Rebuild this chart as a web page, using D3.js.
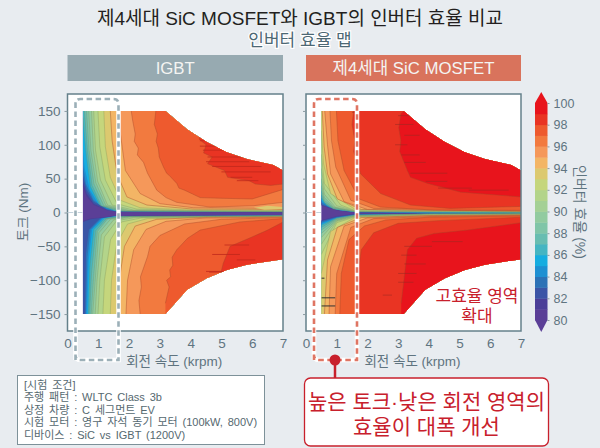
<!DOCTYPE html>
<html><head><meta charset="utf-8">
<script src="https://cdn.jsdelivr.net/npm/d3@7"></script>
<style>
html,body{margin:0;padding:0;background:#e8ecf0;overflow:hidden}
text{font-family:"Liberation Sans","Noto Sans CJK KR",sans-serif}
</style></head><body>
<svg id="c" width="600" height="448" xmlns="http://www.w3.org/2000/svg"></svg>
<script>
const chartTitle="제4세대 SiC MOSFET와 IGBT의 인버터 효율 비교";
const chartSubtitle="인버터 효율 맵";
const panelNames=["IGBT","제4세대 SiC MOSFET"];
const xLabel="회전 속도 (krpm)";
const yLabel="토크 (Nm)";
const barLabel="인버터 효율 (%)";
const xTicks=[0,1,2,3,4,5,6,7];
const yTicks=[150,100,50,0,-50,-100,-150];
const barTicks=[80,82,84,86,88,90,92,94,96,98,100];
const bandLevels=[80,81,82,83,84,85,86,87,88,89,90,91,92,93,94,95,96,97,98,99];
const bandColors=["#5b3f97","#4b3f98","#3b55a6","#2c72b6","#1e90d2","#16ade0","#45b5c2","#68bdb1","#80c5a8","#92cba0","#a4d095","#b3d48a","#c5d67c","#dcc96f","#f3b565","#f5985a","#f27a3f","#ee5a2e","#e93423","#e8141c"];
const envelopeTop=[[0.5,150],[3.18,150],[3.88,123],[4.52,104],[5.17,89],[5.82,79],[6.68,70],[7,62]];
const envelopeBottom=[[0.5,-150],[3.18,-150],[3.88,-114],[4.52,-97],[5.17,-85],[5.82,-77],[7,-69]];
const curveLevels=[81,82,83,84,85,86,87,88,89,90,91,92,93,94,95,96,97,98,99];
const igbtUpper=[
[[0.5,38],[0.62,24],[0.85,11],[1.3,3],[1.6,1],[7,0.3]],
[[0.5,45],[0.62,28],[0.85,13],[1.3,3.5],[1.6,1.3],[7,0.5]],
[[0.5,55],[0.62,34],[0.85,16],[1.3,4],[1.6,1.6],[7,0.7]],
[[0.5,70],[0.6,42],[0.85,18],[1.25,6],[1.6,2],[7,0.9]],
[[0.5,92],[0.56,65],[0.72,34],[1,13],[1.55,2.2],[7,1.1]],
[[0.5,140],[0.6,90],[0.75,38],[1.05,11],[1.6,2.2],[7,1.3]],
[[0.55,150],[0.65,92],[0.8,40],[1.1,10],[1.7,2.4],[7,1.5]],
[[0.62,150],[0.7,92],[0.86,42],[1.18,10],[1.8,2.6],[7,1.7]],
[[0.69,150],[0.76,92],[0.92,44],[1.25,10],[1.9,2.9],[7,1.9]],
[[0.78,150],[0.84,92],[0.98,46],[1.3,11],[2,3.2],[7,2.1]],
[[0.85,150],[0.91,92],[1.07,48],[1.45,11],[2.15,3.6],[7,2.4]],
[[0.99,150],[1.05,97],[1.23,48],[1.61,13],[2.25,5],[4.09,3],[7,2.8]],
[[1.18,150],[1.23,97],[1.39,52],[1.72,18],[2.36,7],[4.09,3.6],[7,3.3]],
[[1.39,150],[1.45,106],[1.61,57],[1.93,23],[2.58,11],[4.09,5],[7,4.5]],
[[1.66,150],[1.72,116],[1.88,62],[2.36,28],[3.01,13],[4.09,7],[7,6]],
[[2.07,150],[2.12,135],[2.2,116],[2.17,105],[2.3,95],[2.27,85],[2.47,74],[2.6,58],[2.9,33],[3.2,22],[3.55,15],[4.63,8],[6.04,10],[7,15]],
[[2.87,150],[2.82,130],[2.92,116],[2.88,105],[2.95,95],[2.98,82],[3.12,67],[3.22,58],[3.3,55],[3.55,43],[3.62,36],[3.8,33],[4.31,22],[5,21],[6,20],[7,34]],
[[4.3,125],[4.28,108],[4.5,100],[4.42,88],[4.7,82],[4.55,72],[5.1,62],[5.2,52],[5.9,47],[6.1,42],[6.6,40],[7,42]],
[[7.3,300],[7.4,300]]
];
const igbtLower=[
[[0.5,-12],[0.75,-9],[1.25,-6.5],[1.6,-5],[7,-4.2]],
[[0.5,-14],[0.75,-10],[1.25,-7],[1.6,-5.2],[7,-4.3]],
[[0.57,-150],[0.6,-60],[0.7,-25],[1.05,-9],[1.55,-5.5],[7,-4.4]],
[[0.6,-150],[0.65,-65],[0.75,-25],[1.1,-9],[1.55,-5.5],[7,-4.5]],
[[0.64,-150],[0.69,-70],[0.8,-25],[1.15,-9],[1.55,-6],[7,-4.7]],
[[0.68,-150],[0.73,-80],[0.86,-25],[1.2,-9],[1.6,-6],[7,-4.9]],
[[0.72,-150],[0.78,-90],[0.92,-27],[1.25,-9.5],[1.7,-6.5],[7,-5.1]],
[[0.77,-150],[0.84,-100],[0.97,-28],[1.3,-9.5],[1.8,-6.5],[7,-5.3]],
[[0.82,-150],[0.9,-100],[1.02,-30],[1.4,-10],[1.9,-7],[7,-5.5]],
[[0.9,-150],[0.96,-100],[1.1,-33],[1.5,-11],[2,-7],[7,-5.7]],
[[0.99,-150],[1.05,-100],[1.2,-36],[1.6,-12],[2.2,-7.5],[7,-5.9]],
[[1.15,-150],[1.2,-100],[1.4,-40],[1.75,-14],[2.4,-8],[7,-6.1]],
[[1.39,-150],[1.43,-100],[1.6,-46],[1.95,-17],[2.6,-9],[7,-6.4]],
[[1.61,-150],[1.68,-100],[1.85,-50],[2.2,-20],[2.9,-10],[4.5,-7],[7,-6.7]],
[[1.9,-150],[1.95,-100],[2.15,-55],[2.55,-25],[3.2,-13],[4.5,-8],[7,-7]],
[[2.36,-150],[2.32,-130],[2.4,-110],[2.37,-95],[2.6,-65],[2.68,-50],[3,-34],[3.8,-17],[5,-10],[7,-7.5]],
[[3.18,-134],[3.3,-110],[3.22,-100],[3.35,-95],[3.32,-85],[3.42,-78],[3.4,-66],[3.55,-55],[3.9,-38],[4.31,-26],[5.6,-14],[7,-9]],
[[4.95,-95],[5.06,-75],[5.28,-50],[5.8,-40],[6.5,-26],[7,-14]],
[[7.3,-300],[7.4,-300]]
];
const sicUpper=[
[[0.5,10.5],[1,3],[1.6,-0.5],[4,-0.8],[7,-1]],
[[0.5,11],[0.9,5],[1.3,2],[1.6,0.3],[4,-0.7],[7,-1]],
[[0.5,12],[0.8,7],[1.2,3],[1.6,0.5],[3.5,-0.4],[7,-0.9]],
[[0.5,15],[0.75,8],[1.1,3.5],[1.6,0.8],[3,0.2],[7,-0.7]],
[[0.5,18],[0.7,10],[1,4],[1.6,1],[3,0.4],[7,-0.5]],
[[0.5,22],[0.65,12],[0.9,5],[1.6,1.2],[7,0.4]],
[[0.5,27],[0.6,15],[0.9,6],[1.6,1.5],[7,0.6]],
[[0.5,33],[0.6,18],[0.9,7],[1.6,1.8],[7,0.8]],
[[0.5,40],[0.6,22],[0.9,8],[1.6,2],[7,1]],
[[0.5,50],[0.6,27],[0.95,8],[1.6,2.2],[7,1.2]],
[[0.5,65],[0.6,35],[1,10],[1.6,2.5],[7,1.4]],
[[0.5,86],[0.6,43],[1.13,11],[1.6,3],[7,1.6]],
[[0.5,121],[0.57,72],[0.8,28],[1.6,4.5],[7,1.8]],
[[0.53,150],[0.59,97],[0.7,57],[1.02,20],[1.8,4.5],[7,2]],
[[0.61,150],[0.7,100],[0.8,57],[1.24,16],[2,4.5],[7,2.3]],
[[0.78,150],[0.83,106],[0.97,67],[1.46,18],[2.2,6],[7,2.7]],
[[0.99,150],[1.04,106],[1.24,62],[1.73,20],[2.43,8],[4.17,3.6],[7,3.2]],
[[1.55,150],[1.5,130],[1.59,106],[1.55,90],[1.78,57],[2.43,28],[3.4,11],[4.7,6],[7,9]],
[[3.2,150],[3.09,146],[3.02,125],[3.09,106],[3.05,90],[3.3,62],[3.4,52],[3.96,43],[5.04,30],[7,23]]
];
const sicLower=[
[[0.5,-11.5],[1,-5],[1.6,-2],[4,-1.5],[7,-1.3]],
[[0.5,-12],[1,-6],[1.6,-2.5],[4,-1.6],[7,-1.4]],
[[0.5,-13],[1,-7],[1.6,-3],[4,-1.7],[7,-1.5]],
[[0.5,-15],[1,-7.5],[1.6,-3.3],[4,-1.8],[7,-1.6]],
[[0.5,-17],[1,-8],[1.6,-3.6],[4,-2],[7,-1.7]],
[[0.5,-19],[1,-8.5],[1.6,-4],[4,-2.2],[7,-1.8]],
[[0.5,-22],[1,-9],[1.6,-4.3],[4,-2.4],[7,-2]],
[[0.5,-26],[1,-10],[1.6,-4.6],[4,-2.6],[7,-2.2]],
[[0.5,-31],[1,-11],[1.6,-5],[4,-2.8],[7,-2.4]],
[[0.5,-37],[1,-12],[1.6,-5.4],[4,-3],[7,-2.6]],
[[0.5,-47],[1,-13],[1.6,-6],[4,-3.2],[7,-2.8]],
[[0.5,-62],[1,-15],[1.6,-6.5],[4,-3.5],[7,-3]],
[[0.5,-90],[0.8,-28],[1.6,-7],[4,-4],[7,-3.3]],
[[0.6,-150],[0.7,-70],[1.02,-22],[1.8,-7.5],[4,-4.5],[7,-3.6]],
[[0.75,-150],[0.8,-80],[1.24,-20],[2,-8],[4,-5],[7,-4]],
[[0.95,-150],[1,-90],[1.46,-22],[2.2,-9],[4,-6],[7,-4.5]],
[[1.1,-150],[1.15,-90],[1.4,-40],[1.9,-20],[2.6,-11],[4,-7],[7,-5]],
[[1.65,-150],[1.66,-100],[1.8,-55],[2.2,-30],[3,-16],[4.3,-12],[7,-7]],
[[3.1,-134],[3.2,-95],[3.3,-55],[3.6,-38],[4.17,-31],[5.26,-26],[7,-15]]
];
const igbtLobe=[[6.05,7],[6.5,10],[7,8],[7,5],[6.4,4]];
const igbtStreaks=[[4.4,5.0,112],[4.3,5.3,106],[4.3,5.3,98],[4.4,5.5,92],[4.55,5.7,82],[4.5,5.9,75],[4.7,6.3,68],[5,6.6,60],[5.3,6,52],[5.5,6.2,47],[4.6,5.3,-88],[4.7,5.6,-62],[5.1,5.9,-48],[4.5,5.1,-87],[5.5,6.1,-70]];
const sicStreaks=[[3,3.4,143],[2.9,3.5,130],[3.2,3.7,114],[2.9,3.3,100],[3.1,3.7,85],[3.2,3.9,74],[3.4,4.6,58],[3.9,4.6,46],[4.3,5.4,36],[5.3,6.6,33],[3.1,3.6,-63],[3.2,3.9,-76],[3,3.6,-90],[3,3.5,-103],[3.2,4.1,-50],[4.1,5.1,-43],[0.5,0.95,-126],[0.5,0.95,-138],[0.5,0.6,-97],[1.5,1.62,148],[2.5,2.8,-122]];

const svg=d3.select("#c");
const ink="#5f7480", red="#c8202c";
const yScale=d3.scaleLinear().domain([175,-175]).range([94,331]);
const barScale=d3.scaleLinear().domain([80,100]).range([320,103]);
const panels=[
 {x0:67.5,x1:283,up:igbtUpper,lo:igbtLower,st:igbtStreaks,stc:"#c0281c",so:0.8},
 {x0:306,x1:521,up:sicUpper,lo:sicLower,st:sicStreaks,stc:"#9a2a22",so:0.55}
];
svg.append("text").attr("x",300).attr("y",25).attr("text-anchor","middle").attr("font-size",19).attr("fill","#231f20").text(chartTitle);
svg.append("text").attr("x",300).attr("y",46).attr("text-anchor","middle").attr("font-size",17).attr("fill","#4d6874").attr("stroke","#fff").attr("stroke-width",2.5).attr("paint-order","stroke").text(chartSubtitle);

const line=d3.line();
panels.forEach((p,i)=>{
 const xs=d3.scaleLinear().domain([0,7]).range([p.x0,p.x1]);
 const g=svg.append("g");
 g.append("rect").attr("x",p.x0).attr("y",55).attr("width",p.x1-p.x0).attr("height",26).attr("fill",i?"#d9735c":"#97aab1");
 g.append("text").attr("x",(p.x0+p.x1)/2).attr("y",73.5).attr("text-anchor","middle").attr("font-size",16.8).attr("fill","#f4f4f2").text(panelNames[i]);
 g.append("rect").attr("x",p.x0).attr("y",94).attr("width",p.x1-p.x0).attr("height",237).attr("fill","#fff");
 const pt=d=>[xs(d[0]),yScale(d[1])];
 const clipId="clip"+i;
 g.append("clipPath").attr("id",clipId).append("path").attr("d",line(envelopeTop.concat(envelopeBottom.slice().reverse()).map(pt))+"Z");
 const body=g.append("g").attr("clip-path",`url(#${clipId})`);
 body.append("rect").attr("x",p.x0).attr("y",94).attr("width",p.x1-p.x0).attr("height",237).attr("fill",bandColors[0]);
 curveLevels.forEach((lv,k)=>{
  const col=bandColors[bandLevels.indexOf(lv)];
  [[p.up[k],300],[p.lo[k],-300]].forEach(([c,far])=>{
   const poly=c.concat([[7.5,c[c.length-1][1]],[7.5,far],[c[0][0],far]]);
   body.append("path").attr("d",line(poly.map(pt))+"Z").attr("fill",col);
   if(lv>=86) body.append("path").attr("d",line(c.map(pt))).attr("fill","none").attr("stroke",lv>=94?"#a8452a":"#7f8f55").attr("stroke-opacity",lv>=94?0.7:0.55).attr("stroke-width",0.6);
  });
 });
 if(i===0) body.append("path").attr("d",line(igbtLobe.map(pt))+"Z").attr("fill",bandColors[13]);
 body.selectAll("line.s").data(p.st).join("line").attr("x1",d=>xs(d[0])).attr("x2",d=>xs(d[1])).attr("y1",d=>yScale(d[2])).attr("y2",d=>yScale(d[2])).attr("stroke",d=>d[0]<1?"#333":p.stc).attr("stroke-opacity",d=>d[0]<1?1:p.so).attr("stroke-width",1);
 g.append("rect").attr("x",p.x0).attr("y",94).attr("width",p.x1-p.x0).attr("height",237).attr("fill","none").attr("stroke","#64808a").attr("stroke-width",1.5);
 // axes
 const ax=g.append("g").attr("transform","translate(0,331)").call(d3.axisBottom(xs).tickValues(xTicks).tickSize(0).tickPadding(7).tickFormat(d3.format("d")));
 ax.select(".domain").remove();
 ax.selectAll("text").attr("font-size",13.5).attr("fill",ink).attr("font-family",null);
 const ay=g.append("g").attr("transform",`translate(${p.x0},0)`).call(d3.axisLeft(yScale).tickValues(yTicks).tickSize(3).tickPadding(4).tickFormat(i?"":d3.format("d")));
 ay.select(".domain").remove();
 ay.selectAll("line").attr("stroke","#8a9aa1");
 ay.selectAll("text").attr("font-size",13.5).attr("fill",ink).attr("font-family",null);
 g.append("line").attr("x1",p.x0).attr("x2",p.x0+15).attr("y1",yScale(0)).attr("y2",yScale(0)).attr("stroke","#c4d2dc").attr("stroke-width",1);
 g.append("text").attr("x",(p.x0+p.x1)/2-1).attr("y",366).attr("text-anchor","middle").attr("font-size",13.5).attr("fill",ink).text(xLabel);
 // dashed box
 const bx=p.x0+8, bw=43, by=99, bh=261;
 const bp=`M${bx},${by+bh}V${by+5}Q${bx},${by} ${bx+5},${by}H${bx+bw-5}Q${bx+bw},${by} ${bx+bw},${by+5}V${by+bh}Q${bx+bw},${by+bh} ${bx+bw-5},${by+bh}H${bx+5}Q${bx},${by+bh} ${bx},${by+bh-5}`;
 g.append("path").attr("d",bp).attr("fill","none").attr("stroke","#fff").attr("stroke-width",4.5);
 g.append("path").attr("d",bp).attr("fill","none").attr("stroke",i?"#df7563":"#9cb0b8").attr("stroke-width",2.6).attr("stroke-dasharray","5.5 3.5");
});
svg.append("text").attr("transform","translate(28,212) rotate(-90)").attr("text-anchor","middle").attr("font-size",13.5).attr("fill",ink).text(yLabel);

// colour bar
const barX=535, barW=12.5;
bandLevels.forEach((lv,k)=>{
 svg.append("rect").attr("x",barX).attr("width",barW).attr("y",barScale(lv+1)).attr("height",barScale(lv)-barScale(lv+1)+0.4).attr("fill",bandColors[k]);
});
svg.append("path").attr("d",`M${barX},${barScale(100)}L${barX+barW/2},92L${barX+barW},${barScale(100)}Z`).attr("fill",bandColors[19]);
svg.append("path").attr("d",`M${barX},${barScale(80)}L${barX+barW/2},332L${barX+barW},${barScale(80)}Z`).attr("fill",bandColors[0]);
const bax=svg.append("g").attr("transform",`translate(${barX+barW},0)`).call(d3.axisRight(barScale).tickValues(barTicks).tickSize(2).tickPadding(4));
bax.select(".domain").remove();
bax.selectAll("line").attr("stroke","#8a9aa1");
bax.selectAll("text").attr("font-size",12.5).attr("fill",ink).attr("font-family",null);
svg.append("text").attr("transform","translate(575,212) rotate(90)").attr("text-anchor","middle").attr("font-size",14).attr("fill",ink).text(barLabel);

// high efficiency note
const noteLines=["고효율 영역","확대"];
noteLines.forEach((t,k)=>svg.append("text").attr("x",477).attr("y",302+k*20).attr("text-anchor","middle").attr("font-size",17).attr("fill",red).text(t));

// conditions box
const conditionLines=["[시험 조건]","주행 패턴 : WLTC Class 3b","상정 차량 : C 세그먼트 EV","시험 모터 : 영구 자석 동기 모터 (100kW, 800V)","디바이스 : SiC vs IGBT (1200V)"];
svg.append("rect").attr("x",17.5).attr("y",375.5).attr("width",247).attr("height",69).attr("fill","#fff").attr("stroke","#7d9199");
conditionLines.forEach((t,k)=>svg.append("text").attr("x",24).attr("y",389+k*12.4).attr("font-size",11).attr("word-spacing",1.8).attr("fill","#55686f").text(t));

// callout
svg.append("line").attr("x1",335).attr("x2",335).attr("y1",360).attr("y2",378).attr("stroke",red).attr("stroke-width",2.5);
svg.append("circle").attr("cx",335).attr("cy",360).attr("r",5.5).attr("fill",red);
svg.append("rect").attr("x",304.5).attr("y",378).attr("width",244).attr("height",68).attr("rx",6).attr("fill","#fff").attr("stroke",red).attr("stroke-width",1.3);
const calloutLines=["높은 토크·낮은 회전 영역의","효율이 대폭 개선"];
calloutLines.forEach((t,k)=>svg.append("text").attr("x",426.5).attr("y",409+k*25).attr("text-anchor","middle").attr("font-size",21).attr("fill",red).text(t));
</script></body></html>
